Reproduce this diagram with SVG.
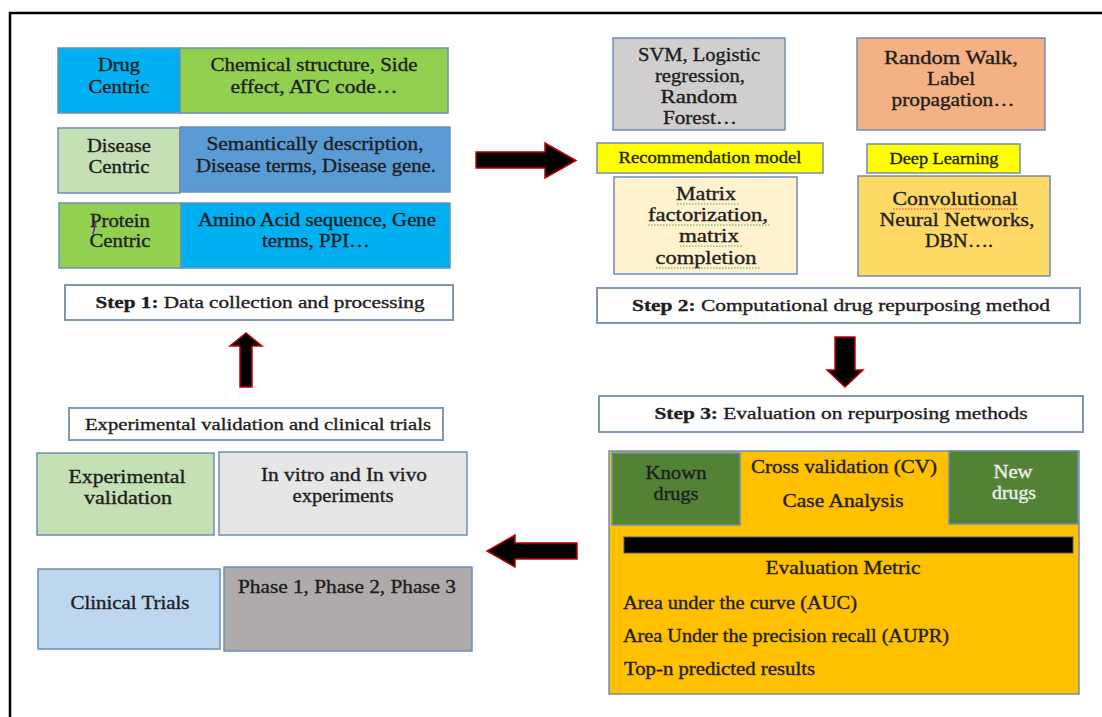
<svg xmlns="http://www.w3.org/2000/svg" width="1102" height="717" viewBox="0 0 1102 717">
<style>
text{font-family:"Liberation Serif","Times New Roman",serif;font-size:18px;fill:#1e1e1e;stroke:#1e1e1e;stroke-width:0.35;text-anchor:middle}
.l{text-anchor:start}
.s{font-size:17px}
.b{font-weight:bold}
.w{fill:#eeeeee;stroke:#eeeeee}
.box{stroke:#6f8fb4;stroke-width:1.5}
.step{fill:#fff;stroke:#7f98b8;stroke-width:2}
.arrow{fill:#000;stroke:#c00000;stroke-width:1.5;stroke-linejoin:miter}
.sq{fill:none;stroke:#5aa05a;stroke-width:1.2;stroke-dasharray:1.5 1.5}
</style>
<rect width="1102" height="717" fill="#fff"/>
<g id="frame" stroke="#000" stroke-width="2.5" fill="none">
<line x1="9" y1="13" x2="1102" y2="13"/>
<line x1="10" y1="12" x2="10" y2="717"/>
</g>

<g id="drug-centric"><rect class="box" x="58" y="48" width="122" height="65" fill="#00b0f0"/><text x="119" y="71" textLength="42" lengthAdjust="spacingAndGlyphs">Drug</text><text x="119" y="93" textLength="61" lengthAdjust="spacingAndGlyphs">Centric</text></g>
<g id="drug-features"><rect class="box" x="180" y="48" width="268" height="65" fill="#92d050"/><text x="314" y="71" textLength="207" lengthAdjust="spacingAndGlyphs">Chemical structure, Side</text><text x="314" y="93" textLength="167" lengthAdjust="spacingAndGlyphs">effect, ATC code…</text></g>
<g id="disease-centric"><rect class="box" x="58" y="128" width="122" height="65" fill="#c5e0b4"/><text x="119" y="152" textLength="64" lengthAdjust="spacingAndGlyphs">Disease</text><text x="119" y="173" textLength="61" lengthAdjust="spacingAndGlyphs">Centric</text></g>
<g id="disease-features"><rect class="box" x="180" y="127" width="270" height="65" fill="#5b9bd5"/><text x="315" y="150" textLength="217" lengthAdjust="spacingAndGlyphs">Semantically description,</text><text x="316" y="172" textLength="240" lengthAdjust="spacingAndGlyphs">Disease terms, Disease gene.</text></g>
<g id="protein-centric"><rect class="box" x="59" y="203" width="122" height="65" fill="#92d050"/><text x="120" y="227" textLength="60" lengthAdjust="spacingAndGlyphs">Protein</text><text x="120" y="247" textLength="61" lengthAdjust="spacingAndGlyphs">Centric</text><path d="M96 222 L93 234" stroke="#7030a0" stroke-width="1.5" fill="none"/></g>
<g id="protein-features"><rect class="box" x="181" y="203" width="269" height="65" fill="#00b0f0"/><text x="317" y="226" textLength="238" lengthAdjust="spacingAndGlyphs">Amino Acid sequence, Gene</text><text x="316" y="247" textLength="108" lengthAdjust="spacingAndGlyphs">terms, PPI…</text></g>
<g id="step1"><rect class="step" x="65" y="285" width="388" height="35"/><text class="s" x="260" y="308" textLength="329" lengthAdjust="spacingAndGlyphs"><tspan class="b">Step 1:</tspan> Data collection and processing</text></g>

<g id="ml-methods"><rect class="box" x="613" y="38" width="172" height="92" fill="#d0cece"/><text x="699" y="61" textLength="122" lengthAdjust="spacingAndGlyphs">SVM, Logistic</text><text x="700" y="82" textLength="90" lengthAdjust="spacingAndGlyphs">regression,</text><text x="699" y="103" textLength="77" lengthAdjust="spacingAndGlyphs">Random</text><text x="700" y="124" textLength="74" lengthAdjust="spacingAndGlyphs">Forest…</text></g>
<g id="network-methods"><rect class="box" x="857" y="38" width="188" height="92" fill="#f4b183"/><text x="951" y="64" textLength="134" lengthAdjust="spacingAndGlyphs">Random Walk,</text><text x="951" y="85" textLength="48" lengthAdjust="spacingAndGlyphs">Label</text><text x="953" y="106" textLength="123" lengthAdjust="spacingAndGlyphs">propagation…</text></g>
<g id="recommendation-model"><rect class="box" x="597" y="143" width="226" height="30" fill="#ffff00"/><text class="s" x="710" y="163" textLength="183" lengthAdjust="spacingAndGlyphs">Recommendation model</text></g>
<g id="deep-learning"><rect class="box" x="867" y="144" width="153" height="29" fill="#ffff00"/><text class="s" x="944" y="164" textLength="109" lengthAdjust="spacingAndGlyphs">Deep Learning</text></g>
<g id="matrix-methods"><rect class="box" x="614" y="177" width="183" height="97" fill="#fff2cc"/><text x="706" y="200" textLength="60" lengthAdjust="spacingAndGlyphs">Matrix</text><text x="708" y="221" textLength="120" lengthAdjust="spacingAndGlyphs">factorization,</text><text x="709" y="242" textLength="60" lengthAdjust="spacingAndGlyphs">matrix</text><text x="706" y="264" textLength="101" lengthAdjust="spacingAndGlyphs">completion</text><path class="sq" d="M677 204 H740 M648 225 H770 M680 246 H742 M656 268 H760"/></g>
<g id="dl-methods"><rect class="box" x="858" y="176" width="192" height="100" fill="#ffd966"/><text x="955" y="205" textLength="125" lengthAdjust="spacingAndGlyphs">Convolutional</text><text x="957" y="226" textLength="155" lengthAdjust="spacingAndGlyphs">Neural Networks,</text><text x="959" y="247" textLength="68" lengthAdjust="spacingAndGlyphs">DBN….</text><path d="M893 209 H1018" fill="none" stroke="#e04040" stroke-width="1.2" stroke-dasharray="1.5 1.5"/></g>
<g id="step2"><rect class="step" x="597" y="288" width="483" height="35"/><text class="s" x="841" y="311" textLength="418" lengthAdjust="spacingAndGlyphs"><tspan class="b">Step 2:</tspan> Computational drug repurposing method</text></g>

<g id="step3"><rect class="step" x="599" y="396" width="484" height="36"/><text class="s" x="841" y="419" textLength="373" lengthAdjust="spacingAndGlyphs"><tspan class="b">Step 3:</tspan> Evaluation on repurposing methods</text></g>
<g id="evaluation"><rect class="box" x="609" y="451" width="470" height="243" fill="#ffc000"/>
<text x="844" y="473" textLength="186" lengthAdjust="spacingAndGlyphs">Cross validation (CV)</text>
<text x="843" y="507" textLength="121" lengthAdjust="spacingAndGlyphs">Case Analysis</text>
<rect x="624" y="537" width="449" height="16" fill="#000" stroke="#4a5a70" stroke-width="1"/>
<text x="843" y="574" textLength="155" lengthAdjust="spacingAndGlyphs">Evaluation Metric</text>
<text class="l" x="623" y="609" textLength="234" lengthAdjust="spacingAndGlyphs">Area under the curve (AUC)</text>
<text class="l" x="623" y="642" textLength="326" lengthAdjust="spacingAndGlyphs">Area Under the precision recall (AUPR)</text>
<text class="l" x="624" y="675" textLength="191" lengthAdjust="spacingAndGlyphs">Top-n predicted results</text></g>
<g id="known-drugs"><rect class="box" x="612" y="453" width="128" height="72" fill="#548235"/><text x="676" y="479" textLength="61" lengthAdjust="spacingAndGlyphs">Known</text><text x="676" y="500" textLength="45" lengthAdjust="spacingAndGlyphs">drugs</text></g>
<g id="new-drugs"><rect class="box" x="949" y="451" width="129" height="73" fill="#548235"/><text class="w" x="1013" y="478" textLength="39" lengthAdjust="spacingAndGlyphs">New</text><text class="w" x="1014" y="499" textLength="44" lengthAdjust="spacingAndGlyphs">drugs</text></g>

<g id="validation-title"><rect class="step" x="69" y="408" width="374" height="32"/><text class="s" x="258" y="430" textLength="346" lengthAdjust="spacingAndGlyphs">Experimental validation and clinical trials</text></g>
<g id="experimental-validation"><rect class="box" x="37" y="453" width="177" height="82" fill="#c5e0b4"/><text x="127" y="483" textLength="117" lengthAdjust="spacingAndGlyphs">Experimental</text><text x="128" y="504" textLength="88" lengthAdjust="spacingAndGlyphs">validation</text></g>
<g id="in-vitro"><rect class="box" x="219" y="452" width="248" height="83" fill="#e7e6e6"/><text x="344" y="481" textLength="166" lengthAdjust="spacingAndGlyphs">In vitro and In vivo</text><text x="343" y="502" textLength="101" lengthAdjust="spacingAndGlyphs">experiments</text></g>
<g id="clinical-trials"><rect class="box" x="38" y="569" width="182" height="80" fill="#bdd7ee"/><text x="130" y="609" textLength="119" lengthAdjust="spacingAndGlyphs">Clinical Trials</text></g>
<g id="phases"><rect class="box" x="224" y="567" width="248" height="84" fill="#aeaaaa"/><text x="347" y="593" textLength="218" lengthAdjust="spacingAndGlyphs">Phase 1, Phase 2, Phase 3</text></g>

<g id="connectors">
<polygon class="arrow" points="476,152 545,152 545,143 576,160.5 545,178 545,168 476,168"/>
<polygon class="arrow" points="835,337 855,337 855,370 863,370 845,387 827,370 835,370"/>
<polygon class="arrow" points="577,543 515,543 515,535 487,551 515,567 515,559 577,559"/>
<polygon class="arrow" points="240,387 240,346 230,346 246,333 262,346 252,346 252,387"/>
</g>
</svg>
